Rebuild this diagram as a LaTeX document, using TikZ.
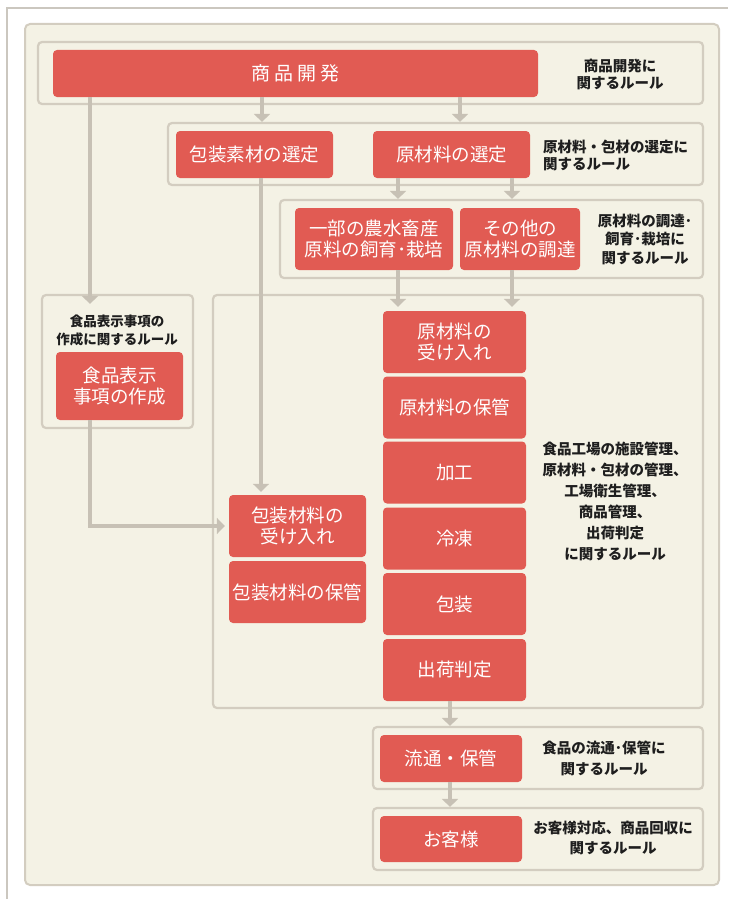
\documentclass[tikz,border=0pt]{standalone}
\usepackage{fontspec}
\setmainfont{Noto Sans CJK JP}
\usetikzlibrary{arrows.meta}
\definecolor{redbox}{HTML}{E15B53}
\definecolor{panelbg}{HTML}{F4F2E5}
\definecolor{gborder}{HTML}{D3CDC0}
\definecolor{connc}{HTML}{C7C1B5}
\definecolor{framec}{HTML}{CBC7BF}
\definecolor{ruletext}{HTML}{1E1E1E}
\tikzset{
  grp/.style={draw=gborder, line width=2.2pt, rounded corners=4pt, inner sep=0pt},
  rbox/.style={fill=redbox, rounded corners=4pt, text=white, inner sep=0pt, align=center,
    font=\fontsize{18.5}{20.5}\selectfont},
  rule/.style={text=ruletext, align=center, inner sep=0pt,
    font=\bfseries\fontsize{14.5}{17}\selectfont},
  conn/.style={draw=connc, line width=4.5pt, -{Triangle[width=16pt,length=8pt]}},
}
\begin{document}
\begin{tikzpicture}[x=1pt,y=-1pt]
\useasboundingbox (0,0) rectangle (728,899);
\fill[white] (0,0) rectangle (728,899);
\draw[framec, line width=2pt] (7,899) -- (7,8) -- (728,8);
\filldraw[fill=panelbg, draw=gborder, line width=2pt, rounded corners=5pt] (25,24) rectangle (719,885);

% groups
\node[grp, minimum width=665, minimum height=62] (g1) at (370.5,73) {};
\node[grp, minimum width=535, minimum height=62] (g2) at (435.5,154) {};
\node[grp, minimum width=423, minimum height=78] (g3) at (491.5,239) {};
\node[grp, minimum width=490, minimum height=413] (g4) at (458,501.5) {};
\node[grp, minimum width=151, minimum height=133] (g5) at (117.5,361.5) {};
\node[grp, minimum width=330, minimum height=62] (g6) at (538,758) {};
\node[grp, minimum width=330, minimum height=62] (g7) at (538,839) {};

% red boxes
\node[rbox, minimum width=485, minimum height=47, font=\fontsize{19}{20}\selectfont] (dev) at (295.5,73.5) {商\hspace{4pt}品\hspace{4pt}開\hspace{4pt}発};
\node[rbox, minimum width=157, minimum height=47] (pkgsel) at (254.5,154.5) {包装素材の選定};
\node[rbox, minimum width=157, minimum height=47] (rawsel) at (451.5,154.5) {原材料の選定};
\node[rbox, minimum width=158, minimum height=62] (farm) at (374,239) {一部の農水畜産\\原料の飼育･栽培};
\node[rbox, minimum width=120, minimum height=62] (other) at (520,239) {その他の\\原材料の調達};
\node[rbox, minimum width=127, minimum height=68] (label) at (119.5,386) {食品表示\\事項の作成};
\node[rbox, minimum width=143, minimum height=62] (raw1) at (454.5,342) {原材料の\\受け入れ};
\node[rbox, minimum width=143, minimum height=62] (raw2) at (454.5,407.5) {原材料の保管};
\node[rbox, minimum width=143, minimum height=62] (proc) at (454.5,472.5) {加工};
\node[rbox, minimum width=143, minimum height=62] (frz) at (454.5,538.5) {冷凍};
\node[rbox, minimum width=143, minimum height=62] (pack) at (454.5,604) {包装};
\node[rbox, minimum width=143, minimum height=62] (ship) at (454.5,670) {出荷判定};
\node[rbox, minimum width=137, minimum height=62] (pkgrecv) at (297.5,526) {包装材料の\\受け入れ};
\node[rbox, minimum width=137, minimum height=62] (pkgstore) at (297.5,592) {包装材料の保管};
\node[rbox, minimum width=142, minimum height=47] (dist) at (451,758.5) {流通・保管};
\node[rbox, minimum width=142, minimum height=46] (cust) at (451,839) {お客様};

% connectors (node to node)
\draw[conn] (dev.south -| 262,0) -- (g2.north -| 262,0);
\draw[conn] (dev.south -| 460,0) -- (g2.north -| 460,0);
\draw[conn] (dev.south -| 90,0) -- ([yshift=-10pt]g5.north -| 90,0);
\draw[conn] (pkgsel.south -| 261,0) -- ([yshift=3pt]pkgrecv.north -| 261,0);
\draw[conn] (rawsel.south -| 398,0) -- (g3.north -| 398,0);
\draw[conn] (rawsel.south -| 512,0) -- (g3.north -| 512,0);
\draw[conn] (farm.south -| 398,0) -- ([yshift=4pt]raw1.north -| 398,0);
\draw[conn] (other.south -| 512,0) -- ([yshift=4pt]raw1.north -| 512,0);
\draw[conn] (label.south -| 90,0) |- ([xshift=-4pt]pkgrecv.west);
\draw[conn] (ship.south -| 450,0) -- (g6.north -| 450,0);
\draw[conn] (dist.south -| 450,0) -- (g7.north -| 450,0);

% rule texts
\node[rule] (r1) at (620,74) {商品開発に\\関するルール};
\node[rule, anchor=west, align=left] (r2) at (543,155) {原材料・包材の選定に\\関するルール};
\node[rule, font=\bfseries\fontsize{14.5}{18.5}\selectfont] (r3) at (645,239) {原材料の調達･\\飼育･栽培に\\関するルール};
\node[rule, font=\bfseries\fontsize{13.5}{18}\selectfont] (r5) at (117,330) {食品表示事項の\\作成に関するルール};
\node[rule, font=\bfseries\fontsize{14.5}{21}\selectfont] (r4) at (615,501) {食品工場の施設管理、\\原材料・包材の管理、\\工場衛生管理、\\商品管理、\\出荷判定\\に関するルール};
\node[rule, font=\bfseries\fontsize{14.5}{21}\selectfont] (r6) at (604,758) {食品の流通･保管に\\関するルール};
\node[rule, font=\bfseries\fontsize{14.5}{20}\selectfont] (r7) at (613,838) {お客様対応、商品回収に\\関するルール};
\end{tikzpicture}
\end{document}
